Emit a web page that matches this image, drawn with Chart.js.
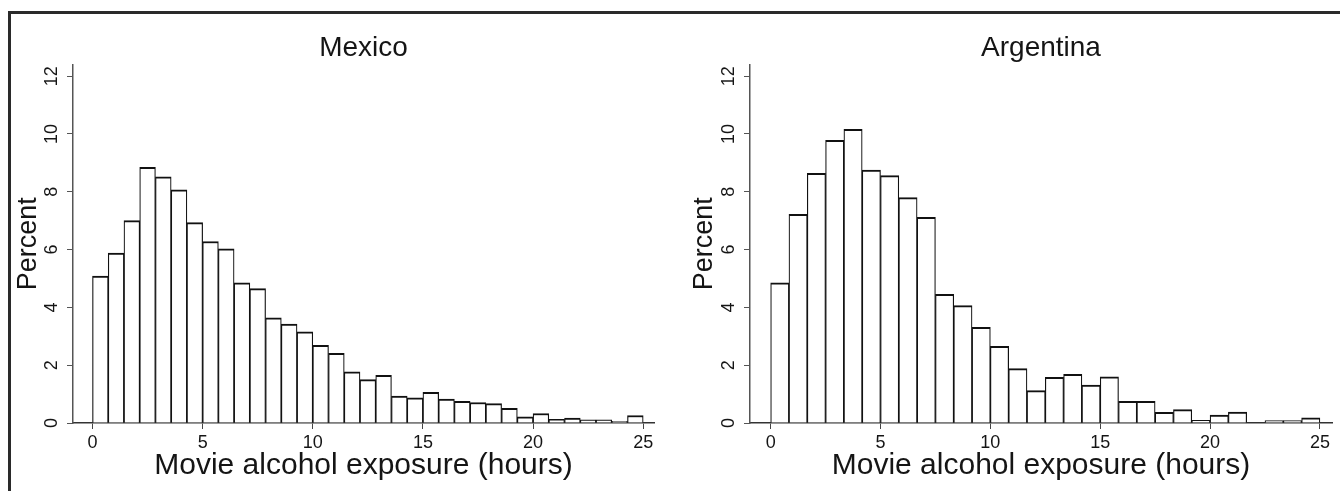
<!DOCTYPE html>
<html lang="en">
<head>
    <meta charset="UTF-8">
    <title>Movie alcohol exposure histograms</title>
    <script src="https://cdn.jsdelivr.net/npm/chart.js@4"></script>
    <style>
        body { margin: 0; background: #fff; width: 1340px; height: 491px; overflow: hidden; position: relative; }
        .pane { position: absolute; top: 0; width: 670px; height: 491px; }
        #frame { position: absolute; left: 8px; top: 11px; width: 1400px; height: 600px;
                 border-left: 3px solid #2a2a2a; border-top: 3px solid #2a2a2a; z-index: 5; pointer-events: none; }
    </style>
</head>
<body>
    <div class="pane" style="left:0"><canvas id="mexChart" width="670" height="491"></canvas></div>
    <div class="pane" style="left:670px"><canvas id="argChart" width="670" height="491"></canvas></div>
    <div id="frame"></div>

    <script>
        // percent of respondents per bin
        const mexicoBinWidth = 5 / 7;
        const mexicoPct = [5.08, 5.88, 7.00, 8.85, 8.52, 8.07, 6.93, 6.28, 6.03, 4.85,
                           4.65, 3.64, 3.42, 3.15, 2.69, 2.41, 1.77, 1.50, 1.65, 0.93,
                           0.87, 1.06, 0.83, 0.75, 0.71, 0.67, 0.51, 0.21, 0.33, 0.13,
                           0.17, 0.11, 0.11, 0.06, 0.26];

        const argentinaBinWidth = 5 / 6;
        const argentinaPct = [4.85, 7.22, 8.64, 9.78, 10.16, 8.75, 8.56, 7.80, 7.12, 4.45,
                              4.06, 3.31, 2.65, 1.88, 1.12, 1.58, 1.68, 1.31, 1.60, 0.75,
                              0.75, 0.37, 0.46, 0.09, 0.27, 0.38, 0, 0.08, 0.08, 0.18];

        const xTicks = [0, 5, 10, 15, 20, 25];
        const yTicks = [0, 2, 4, 6, 8, 10, 12];

        const FONT = '"Liberation Sans", Arial, sans-serif';
        const INK = '#151515';

        function makeHist(canvasId, title, pct, binWidth, opts) {
            const points = pct.map((v, i) => ({ x: (i + 0.5) * binWidth, y: v }));
            return new Chart(document.getElementById(canvasId), {
                type: 'bar',
                data: {
                    datasets: [{
                        data: points,
                        backgroundColor: '#fff',
                        borderColor: '#111',
                        borderWidth: { top: 2, left: 1.2, right: 1.2, bottom: 0 },
                        borderSkipped: 'bottom',
                        barPercentage: 1,
                        categoryPercentage: 1
                    }]
                },
                options: {
                    responsive: false,
                    animation: false,
                    layout: { padding: { left: 0, right: opts.padRight, top: 0, bottom: 0 } },
                    plugins: {
                        legend: { display: false },
                        tooltip: { enabled: false },
                        title: {
                            display: true,
                            text: title,
                            fullSize: false,
                            color: INK,
                            font: { family: FONT, size: 28, weight: 'normal' },
                            padding: { top: 31, bottom: 0 }
                        }
                    },
                    scales: {
                        x: {
                            type: 'linear',
                            offset: false,
                            min: opts.xMin,
                            max: opts.xMax,
                            grid: { offset: false, drawOnChartArea: false, drawTicks: true, tickLength: 6, color: '#444' },
                            border: { display: true, color: '#333', width: 1.6 },
                            afterBuildTicks: s => { s.ticks = xTicks.map(v => ({ value: v })); },
                            afterFit: s => { s.height = 68; },
                            ticks: {
                                autoSkip: false, maxRotation: 0, padding: 3, color: INK,
                                font: { family: FONT, size: 18 }
                            },
                            title: {
                                display: true,
                                text: 'Movie alcohol exposure (hours)',
                                color: INK,
                                font: { family: FONT, size: 30 },
                                padding: { top: 0, bottom: 7 }
                            }
                        },
                        y: {
                            min: 0,
                            max: 12.4,
                            grid: { drawOnChartArea: false, drawTicks: true, tickLength: 6, color: '#555' },
                            border: { display: true, color: '#555', width: 1.5 },
                            afterBuildTicks: s => { s.ticks = yTicks.map(v => ({ value: v })); },
                            afterFit: s => { s.width = opts.yWidth; },
                            ticks: {
                                minRotation: 90, maxRotation: 90, crossAlign: 'center',
                                padding: 5, color: INK,
                                font: { family: FONT, size: 18 }
                            },
                            title: {
                                display: true,
                                text: 'Percent',
                                color: INK,
                                font: { family: FONT, size: 27 },
                                padding: { top: opts.titlePad, bottom: 0 }
                            }
                        }
                    }
                }
            });
        }

        makeHist('mexChart', 'Mexico', mexicoPct, mexicoBinWidth,
                 { xMin: -0.885, xMax: 25.49, yWidth: 73, padRight: 16, titlePad: 12 });
        makeHist('argChart', 'Argentina', argentinaPct, argentinaBinWidth,
                 { xMin: -0.94, xMax: 25.55, yWidth: 80, padRight: 8, titlePad: 18 });
    </script>
</body>
</html>
